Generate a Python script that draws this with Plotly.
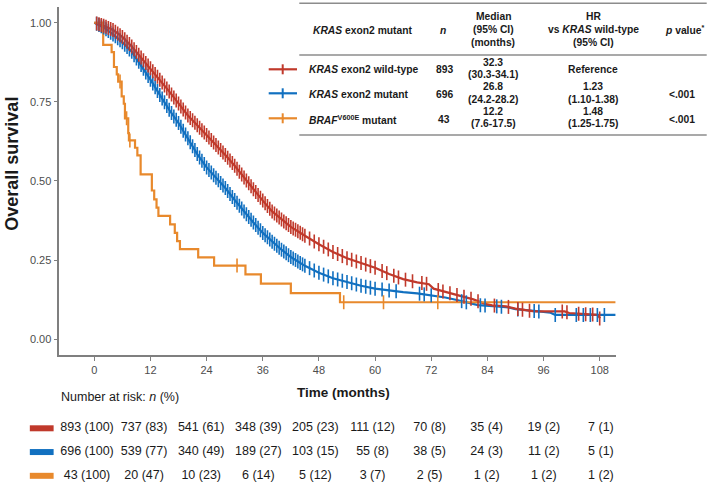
import plotly.graph_objects as go

# ---------------- data ----------------
# Kaplan-Meier curves (months, survival probability)
red_t = [0, 2, 4, 6, 8, 10, 12, 14, 16, 18, 20, 22, 24, 26, 28, 30, 32, 34, 36, 38, 40, 42, 45, 48, 51, 54,
         57, 60, 63, 66, 69, 71.5, 72.5, 75, 78, 81, 83.5, 85, 88, 90, 92, 94, 100.5, 101.5, 107.5, 108.1]
red_s = [1.0, 0.99, 0.977, 0.955, 0.925, 0.89, 0.856, 0.82, 0.783, 0.745, 0.707, 0.676, 0.645, 0.614, 0.582,
         0.548, 0.511, 0.474, 0.438, 0.404, 0.378, 0.355, 0.327, 0.3, 0.276, 0.256, 0.241, 0.226, 0.206, 0.19,
         0.18, 0.174, 0.16, 0.149, 0.138, 0.126, 0.112, 0.107, 0.104, 0.097, 0.092, 0.088, 0.088, 0.083, 0.077, 0.066]

blue_t = [0, 2, 4, 6, 8, 10, 12, 14, 16, 18, 20, 22, 24, 26, 28, 30, 32, 34, 36, 38, 40, 42, 45, 48, 51, 54,
          57, 60, 63, 66, 69, 72, 75, 77.5, 80, 82, 86, 88.5, 90, 92, 95, 97.5, 98.5, 111.4]
blue_s = [1.0, 0.985, 0.963, 0.938, 0.908, 0.866, 0.82, 0.772, 0.725, 0.683, 0.635, 0.585, 0.543, 0.51, 0.478,
          0.44, 0.404, 0.369, 0.336, 0.308, 0.283, 0.26, 0.232, 0.21, 0.193, 0.181, 0.169, 0.16, 0.154, 0.149,
          0.145, 0.139, 0.132, 0.124, 0.115, 0.108, 0.104, 0.101, 0.095, 0.093, 0.088, 0.084, 0.077, 0.077]

orange_t = [0, 1.9, 3.7, 4.2, 4.8, 5.1, 5.85, 6.3, 6.55, 7.25, 7.4, 8.7, 9.2, 9.9, 12.3, 12.8, 13.3, 13.7,
            16.2, 17.2, 17.7, 18.3, 22.2, 25.6, 32.3, 35.6, 42.0, 52.5, 111.4]
orange_s = [1.0, 0.930, 0.907, 0.860, 0.837, 0.814, 0.767, 0.744, 0.698, 0.651, 0.628, 0.605, 0.581, 0.521,
            0.470, 0.442, 0.416, 0.390, 0.363, 0.336, 0.310, 0.285, 0.259, 0.233, 0.205, 0.176, 0.146, 0.117, 0.117]

# censoring marks (months, survival)
red_ct = [1, 2, 3, 4, 5, 6, 7, 8, 9, 10, 11, 12, 13, 14, 15, 16, 17, 18, 19, 20, 21, 22, 23, 24, 25, 26, 27, 28,
          29, 30, 31, 32, 33, 34, 35, 36, 37, 38, 39, 40, 41, 42, 43, 44, 45, 46, 47, 48, 49, 50, 51, 52, 53, 54,
          55, 56, 57, 58, 59, 60, 61.5, 62.5, 64, 65, 66.5, 68, 70, 71, 73.5, 74.5, 76, 77.5, 79, 80.5, 82, 85.5,
          88.5, 90.5, 91.5, 93, 100, 101, 103.5, 105, 106.5, 108]
red_cs = [0.995, 0.99, 0.9835, 0.977, 0.966, 0.955, 0.94, 0.925, 0.9075, 0.89, 0.873, 0.856, 0.838, 0.82, 0.8015,
          0.783, 0.764, 0.745, 0.726, 0.707, 0.6915, 0.676, 0.6605, 0.645, 0.6295, 0.614, 0.598, 0.582, 0.565,
          0.548, 0.5295, 0.511, 0.4925, 0.474, 0.456, 0.438, 0.421, 0.404, 0.391, 0.378, 0.3665, 0.355, 0.3457,
          0.3363, 0.327, 0.318, 0.309, 0.3, 0.292, 0.284, 0.276, 0.2693, 0.2627, 0.256, 0.251, 0.246, 0.241,
          0.236, 0.231, 0.226, 0.216, 0.209, 0.2007, 0.1953, 0.1883, 0.1833, 0.1776, 0.1752, 0.1556, 0.1512,
          0.1453, 0.1398, 0.134, 0.128, 0.1204, 0.1065, 0.1023, 0.0958, 0.0933, 0.09, 0.088, 0.0855, 0.081,
          0.0795, 0.078, 0.066]
red_ct2 = [0.5, 1.5, 2.5, 3.5, 4.5, 5.5, 6.5, 7.5, 8.5, 9.5, 10.5, 11.5, 12.5, 13.5, 14.5, 15.5, 16.5, 17.5,
           18.5, 19.5, 20.5, 21.5, 22.5, 23.5, 24.5, 25.5, 26.5, 27.5, 28.5, 29.5, 30.5, 31.5, 32.5, 33.5, 34.5,
           35.5, 36.5, 37.5, 38.5, 39.5, 40.5, 41.5, 42.5, 43.5, 44.5]
red_cs2 = [0.9975, 0.9925, 0.9868, 0.9803, 0.9715, 0.9605, 0.9475, 0.9325, 0.9163, 0.8988, 0.8815, 0.8645,
           0.847, 0.829, 0.8108, 0.7923, 0.7735, 0.7545, 0.7355, 0.7165, 0.6993, 0.6838, 0.6683, 0.6528, 0.6373,
           0.6218, 0.606, 0.59, 0.5735, 0.5565, 0.5388, 0.5203, 0.5018, 0.4833, 0.465, 0.447, 0.4295, 0.4125,
           0.3975, 0.3845, 0.3723, 0.3608, 0.3503, 0.341, 0.3317]

blue_ct = [1, 2, 3, 4, 5, 6, 7, 8, 9, 10, 11, 12, 13, 14, 15, 16, 17, 18, 19, 20, 21, 22, 23, 24, 25, 26, 27, 28,
           29, 30, 31, 32, 33, 34, 35, 36, 37, 38, 39, 40, 41, 42, 43, 44, 45, 46, 47, 48, 49, 50, 51, 52, 53, 54,
           55, 56, 57, 58, 59, 60, 61.5, 63, 64.5, 69.5, 70.5, 72, 78.5, 79.5, 82.5, 83.5, 86, 87, 90.5, 94, 95,
           98.5, 103, 104.5, 106, 107.5, 109]
blue_cs = [0.9925, 0.985, 0.974, 0.963, 0.9505, 0.938, 0.923, 0.908, 0.887, 0.866, 0.843, 0.82, 0.796, 0.772,
           0.7485, 0.725, 0.704, 0.683, 0.659, 0.635, 0.61, 0.585, 0.564, 0.543, 0.5265, 0.51, 0.494, 0.478,
           0.459, 0.44, 0.422, 0.404, 0.3865, 0.369, 0.3525, 0.336, 0.322, 0.308, 0.2955, 0.283, 0.2715, 0.26,
           0.2507, 0.2413, 0.232, 0.2247, 0.2173, 0.21, 0.2043, 0.1987, 0.193, 0.189, 0.185, 0.181, 0.177,
           0.173, 0.169, 0.166, 0.163, 0.16, 0.157, 0.154, 0.1515, 0.144, 0.142, 0.139, 0.1204, 0.1168, 0.1075,
           0.1065, 0.104, 0.1028, 0.0945, 0.0897, 0.088, 0.077, 0.077, 0.077, 0.077, 0.077, 0.077]
blue_ct2 = [0.5, 1.5, 2.5, 3.5, 4.5, 5.5, 6.5, 7.5, 8.5, 9.5, 10.5, 11.5, 12.5, 13.5, 14.5, 15.5, 16.5, 17.5,
            18.5, 19.5, 20.5, 21.5, 22.5, 23.5, 24.5, 25.5, 26.5, 27.5, 28.5, 29.5, 30.5, 31.5, 32.5, 33.5, 34.5,
            35.5, 36.5, 37.5, 38.5, 39.5, 40.5, 41.5, 42.5, 43.5, 44.5]
blue_cs2 = [0.9963, 0.9888, 0.9795, 0.9685, 0.9568, 0.9443, 0.9305, 0.9155, 0.8975, 0.8765, 0.8545, 0.8315,
            0.808, 0.784, 0.7603, 0.7368, 0.7145, 0.6935, 0.671, 0.647, 0.6225, 0.5975, 0.5745, 0.5535, 0.5348,
            0.5183, 0.502, 0.486, 0.4685, 0.4495, 0.431, 0.413, 0.3953, 0.3778, 0.3608, 0.3443, 0.329, 0.315,
            0.3018, 0.2893, 0.2773, 0.2658, 0.2553, 0.246, 0.2367]

orange_ct = [5.5, 6.9, 7.6, 30.5, 53.3, 61.8, 73.4]
orange_cs = [0.814, 0.698, 0.628, 0.233, 0.117, 0.117, 0.117]

# axis ticks
x_ticks = [0, 12, 24, 36, 48, 60, 72, 84, 96, 108]
y_ticks = [0.0, 0.25, 0.5, 0.75, 1.0]

# number at risk: n (%)
red_n = [893, 737, 541, 348, 205, 111, 70, 35, 19, 7]
red_pct = [100, 83, 61, 39, 23, 12, 8, 4, 2, 1]
blue_n = [696, 539, 340, 189, 103, 55, 38, 24, 11, 5]
blue_pct = [100, 77, 49, 27, 15, 8, 5, 3, 2, 1]
orange_n = [43, 20, 10, 6, 5, 3, 2, 1, 1, 1]
orange_pct = [100, 47, 23, 14, 12, 7, 5, 2, 2, 2]

# legend table
group_labels = ["<i>KRAS</i> exon2 wild-type", "<i>KRAS</i> exon2 mutant", "<i>BRAF</i><sup>V600E</sup> mutant"]
group_n = [893, 696, 43]
median_val = ["32.3", "26.8", "12.2"]
median_ci = ["(30.3-34.1)", "(24.2-28.2)", "(7.6-17.5)"]
hr_val = ["Reference", "1.23", "1.48"]
hr_ci = ["", "(1.10-1.38)", "(1.25-1.75)"]
p_val = ["", "&lt;.001", "&lt;.001"]

# ---------------- styling ----------------
RED, BLUE, ORANGE = "#C0392B", "#1170C0", "#E8892C"
FONT = "Liberation Sans, Arial, sans-serif"
TXT = "#1a1a1a"
AXC = "#7f7f7f"
W, H = 709, 485
TS = 10.3  # table font size


def X(px):
    return px / W


def Y(py):
    return 1 - py / H


fig = go.Figure()

# curves
for t, s, c, shp in [(blue_t, blue_s, BLUE, "linear"), (red_t, red_s, RED, "linear"),
                     (orange_t, orange_s, ORANGE, "hv")]:
    fig.add_trace(go.Scatter(x=t, y=s, mode="lines", line=dict(color=c, width=2.2, shape=shp),
                             hoverinfo="skip", showlegend=False))
# censor marks
for t, s, c in [(blue_ct + blue_ct2, blue_cs + blue_cs2, BLUE), (red_ct + red_ct2, red_cs + red_cs2, RED),
                (orange_ct, orange_cs, ORANGE)]:
    fig.add_trace(go.Scatter(x=t, y=s, mode="markers",
                             marker=dict(symbol="line-ns", size=10, line=dict(color=c, width=1.6)),
                             hoverinfo="skip", showlegend=False))

# number-at-risk table (own hidden axes)
for row, (ns, ps, c) in enumerate([(red_n, red_pct, RED), (blue_n, blue_pct, BLUE), (orange_n, orange_pct, ORANGE)]):
    fig.add_trace(go.Scatter(x=list(range(len(ns))), y=[row] * len(ns), mode="text",
                             text=[f"{n} ({p})" for n, p in zip(ns, ps)],
                             textfont=dict(family=FONT, size=12.5, color=TXT),
                             xaxis="x2", yaxis="y2", hoverinfo="skip", showlegend=False))
    fig.add_trace(go.Scatter(x=[-0.793], y=[row], mode="markers",
                             marker=dict(symbol="line-ew", size=17, line=dict(color=c, width=6)),
                             xaxis="x2", yaxis="y2", hoverinfo="skip", showlegend=False))

annotations = []


def note(text, px, py, size=TS, xanchor="center", color=TXT, bold=True, angle=0):
    if bold:
        text = f"<b>{text}</b>"
    annotations.append(dict(text=text, x=X(px), y=Y(py), xref="paper", yref="paper", xanchor=xanchor,
                            yanchor="middle", showarrow=False, textangle=angle,
                            font=dict(family=FONT, size=size, color=color)))


# legend table header
note("<i>KRAS</i> exon2 mutant", 362.5, 30)
note("<i>n</i>", 443.3, 30)
note("Median", 493.3, 16.7)
note("(95% CI)", 493.3, 29.6)
note("(months)", 493.3, 42.2)
note("HR", 593.3, 16.7)
note("vs <i>KRAS</i> wild-type", 593.3, 29.6)
note("(95% CI)", 593.3, 42.2)
note("<i>p</i> value<sup>*</sup>", 685, 29.6)

row_y = [69.7, 94.3, 119.0]
for i in range(3):
    ry = row_y[i]
    note(group_labels[i], 306.7, ry, xanchor="left")
    note(str(group_n[i]), 444, ry)
    note(median_val[i], 493.3, ry - 7.5)
    note(median_ci[i], 493.3, ry + 5)
    if hr_ci[i]:
        note(hr_val[i], 593.3, ry - 7.5)
        note(hr_ci[i], 593.3, ry + 5)
    else:
        note(hr_val[i], 593.3, ry - 0.5)
    if p_val[i]:
        note(p_val[i], 681.7, ry)

# axis titles & risk caption
note("Overall survival", 11.7, 164, size=18, angle=-90)
note("Time (months)", 343.5, 392.7, size=13.5)
note("Number at risk: <i>n</i> (%)", 59.3, 397, size=12.5, xanchor="left", bold=False)

# table rules and legend glyphs
shapes = []
for ly in [3.3, 55, 135]:
    shapes.append(dict(type="line", xref="paper", yref="paper", x0=X(299.3), x1=X(706.7), y0=Y(ly), y1=Y(ly),
                       line=dict(color="#8c8c8c", width=1.5)))
for ry, c in zip([69.3, 93.3, 118.3], [RED, BLUE, ORANGE]):
    shapes.append(dict(type="line", xref="paper", yref="paper", x0=X(268.7), x1=X(297), y0=Y(ry), y1=Y(ry),
                       line=dict(color=c, width=2.2)))
    shapes.append(dict(type="line", xref="paper", yref="paper", x0=X(282.7), x1=X(282.7), y0=Y(ry - 5),
                       y1=Y(ry + 5), line=dict(color=c, width=2)))

fig.update_layout(
    width=W, height=H, autosize=False,
    margin=dict(l=0, r=0, t=0, b=0),
    paper_bgcolor="white", plot_bgcolor="white",
    showlegend=False,
    font=dict(family=FONT, color=TXT),
    xaxis=dict(domain=[X(59.3), X(615.7)], range=[-7.48, 111.42], tickvals=x_ticks,
               showline=True, linecolor=AXC, linewidth=1.5, ticks="outside", ticklen=4, tickcolor=AXC,
               tickwidth=1.2, showgrid=False, zeroline=False,
               tickfont=dict(family=FONT, size=11, color="#4d4d4d")),
    yaxis=dict(domain=[Y(355), Y(6.7)], range=[-0.0496, 1.0505], tickvals=y_ticks, tickformat=".2f",
               showline=True, linecolor=AXC, linewidth=1.5, ticks="outside", ticklen=4, tickcolor=AXC,
               tickwidth=1.2, showgrid=False, zeroline=False,
               tickfont=dict(family=FONT, size=11, color="#4d4d4d")),
    xaxis2=dict(domain=[0, 1], range=[-87 / 57.1, (W - 87) / 57.1], visible=False, anchor="y2"),
    yaxis2=dict(domain=[0, Y(405)], range=[2.387, -0.981], visible=False, anchor="x2"),
    annotations=annotations,
    shapes=shapes,
)

fig.write_html("out.html", config={"displayModeBar": False},
               post_script="document.body.style.margin='0px';document.body.style.overflow='hidden';")
